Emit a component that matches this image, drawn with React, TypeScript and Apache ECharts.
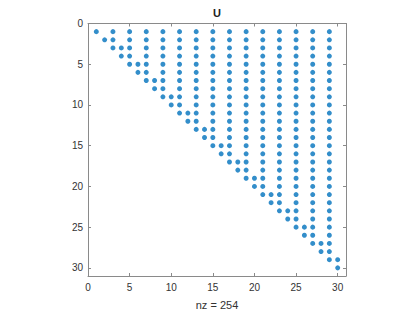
import React, { useEffect, useRef } from "react";
import * as echarts from "echarts";

// Sparsity pattern of U: for each column, the nonzero rows run from firstRow to lastRow
const columns = [1, 2, 3, 4, 5, 6, 7, 8, 9, 10, 11, 12, 13, 14, 15, 16, 17, 18, 19, 20, 21, 22, 23, 24, 25, 26, 27, 28, 29, 30];
const firstRow = [1, 2, 1, 3, 1, 5, 1, 7, 1, 9, 1, 11, 1, 13, 1, 15, 1, 17, 1, 19, 1, 21, 1, 23, 1, 25, 1, 27, 1, 29];
const lastRow = [1, 2, 3, 4, 5, 6, 7, 8, 9, 10, 11, 12, 13, 14, 15, 16, 17, 18, 19, 20, 21, 22, 23, 24, 25, 26, 27, 28, 29, 30];
const tickValues = [0, 5, 10, 15, 20, 25, 30];
const titleText = "U";
const xLabelText = "nz = 254";

export default function App() {
  const ref = useRef<HTMLDivElement>(null);
  useEffect(() => {
    if (!ref.current) return;
    const chart = echarts.init(ref.current, null, { renderer: "svg" });
    const points: number[][] = [];
    columns.forEach((c, i) => {
      for (let r = firstRow[i]; r <= lastRow[i]; r++) points.push([c, r]);
    });
    const axisColor = "#8a8a8a";
    const textColor = "#333333";
    const font = "Liberation Sans, Arial, sans-serif";
    const fmt = (v: number) => (tickValues.includes(v) ? String(v) : "");
    const common = {
      type: "value" as const,
      min: 0,
      max: 31,
      interval: 5,
      splitLine: { show: false },
      axisLine: { show: true, onZero: false, lineStyle: { color: axisColor, width: 1 } },
      axisTick: { show: true, inside: true, length: 3, lineStyle: { color: axisColor } },
    };
    chart.setOption({
      animation: false,
      backgroundColor: "#ffffff",
      grid: { left: 88, top: 23.5, width: 258, height: 256, containLabel: false },
      xAxis: [
        {
          ...common,
          position: "bottom",
          name: xLabelText,
          nameLocation: "middle",
          nameGap: 23,
          nameTextStyle: { color: textColor, fontSize: 11, fontFamily: font },
          axisLabel: { show: true, margin: 6, color: textColor, fontSize: 10, fontFamily: font, formatter: fmt, showMaxLabel: false },
        },
        {
          ...common,
          position: "top",
          axisLabel: { show: false },
        },
      ],
      yAxis: [
        {
          ...common,
          inverse: true,
          position: "left",
          axisLabel: { show: true, margin: 5, color: textColor, fontSize: 10, fontFamily: font, formatter: fmt, showMaxLabel: false },
        },
        {
          ...common,
          inverse: true,
          position: "right",
          axisLabel: { show: false },
        },
      ],
      graphic: [
        {
          type: "text",
          x: 217,
          y: 13,
          style: {
            text: titleText,
            fill: "#222222",
            font: `bold 11px ${font}`,
            textAlign: "center",
            textVerticalAlign: "middle",
          },
        },
      ],
      series: [
        {
          type: "scatter",
          xAxisIndex: 0,
          yAxisIndex: 0,
          data: points,
          symbol: "circle",
          symbolSize: 5,
          itemStyle: { color: "#0072BD" },
        },
      ],
    });
    return () => chart.dispose();
  }, []);
  return <div ref={ref} style={{ position: "absolute", left: 0, top: 0, width: 420, height: 315 }} />;
}
